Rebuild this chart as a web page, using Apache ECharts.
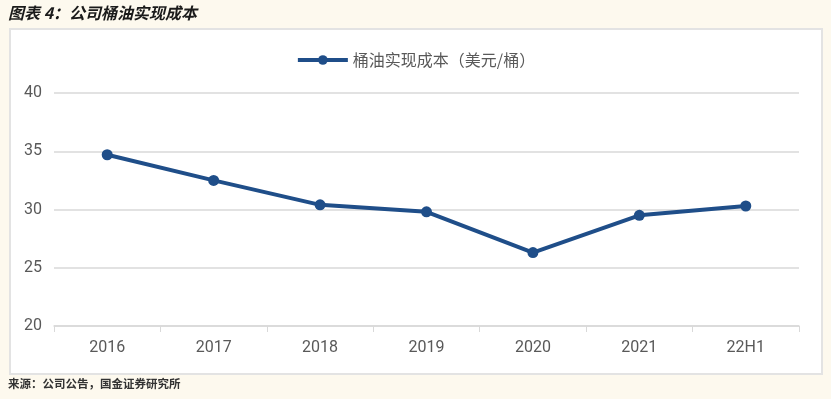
<!DOCTYPE html>
<html>
<head>
<meta charset="utf-8">
<script src="https://cdn.jsdelivr.net/npm/echarts@6/dist/echarts.min.js"></script>
<style>
  html, body { margin: 0; padding: 0; background: #fdf9ee; }
  #chart { width: 831px; height: 399px; }
</style>
</head>
<body>
<div id="chart"></div>
<script>
// 数据
const categories = ['2016', '2017', '2018', '2019', '2020', '2021', '22H1'];
const costValues = [34.7, 32.5, 30.4, 29.8, 26.3, 29.5, 30.3];
const seriesName = '桶油实现成本（美元/桶）';
const yTicks = [20, 25, 30, 35, 40];

document.addEventListener('DOMContentLoaded', function() {
  const myChart = echarts.init(document.getElementById('chart'));
  const cjk = '"Noto Sans CJK SC", "Noto Sans", sans-serif';
  const option = {
    animation: false,
    backgroundColor: '#fdf9ee',
    graphic: [
      {
        type: 'rect',
        shape: { x: 10, y: 29, width: 812, height: 345 },
        style: { fill: '#ffffff', stroke: '#e3e3e3', lineWidth: 2 },
        z: -1
      },
      {
        type: 'text',
        left: 8,
        top: 5,
        style: {
          text: '图表 4：公司桶油实现成本',
          fill: '#1a1a1a',
          font: 'italic bold 16px ' + cjk
        }
      },
      {
        type: 'text',
        left: 8,
        top: 378,
        style: {
          text: '来源：公司公告，国金证券研究所',
          fill: '#333333',
          font: 'bold 11.5px ' + cjk
        }
      }
    ],
    legend: {
      data: [seriesName],
      top: 47,
      left: 'center',
      itemWidth: 50,
      itemHeight: 12,
      itemGap: 10,
      lineStyle: { width: 4 },
      textStyle: {
        color: '#595959',
        fontSize: 16,
        fontFamily: cjk
      }
    },
    grid: {
      left: 54,
      right: 32,
      top: 93,
      bottom: 73
    },
    xAxis: {
      type: 'category',
      data: categories,
      boundaryGap: true,
      axisLine: { lineStyle: { color: '#d9d9d9', width: 1.5 } },
      axisTick: { show: true, length: 6, lineStyle: { color: '#d9d9d9' } },
      axisLabel: {
        color: '#595959',
        fontSize: 16,
        margin: 14,
        fontFamily: 'Roboto, "Noto Sans", sans-serif'
      }
    },
    yAxis: {
      type: 'value',
      min: yTicks[0],
      max: yTicks[yTicks.length - 1],
      interval: 5,
      axisLine: { show: false },
      axisTick: { show: false },
      axisLabel: {
        color: '#595959',
        fontSize: 16,
        margin: 12,
        fontFamily: 'Roboto, "Noto Sans", sans-serif'
      },
      splitLine: { lineStyle: { color: '#d9d9d9', width: 1.5 } }
    },
    series: [
      {
        name: seriesName,
        type: 'line',
        data: costValues,
        symbol: 'circle',
        symbolSize: 11,
        lineStyle: { width: 4, color: '#1f4e89' },
        itemStyle: { color: '#1f4e89' }
      }
    ]
  };
  myChart.setOption(option);
});
</script>
</body>
</html>
